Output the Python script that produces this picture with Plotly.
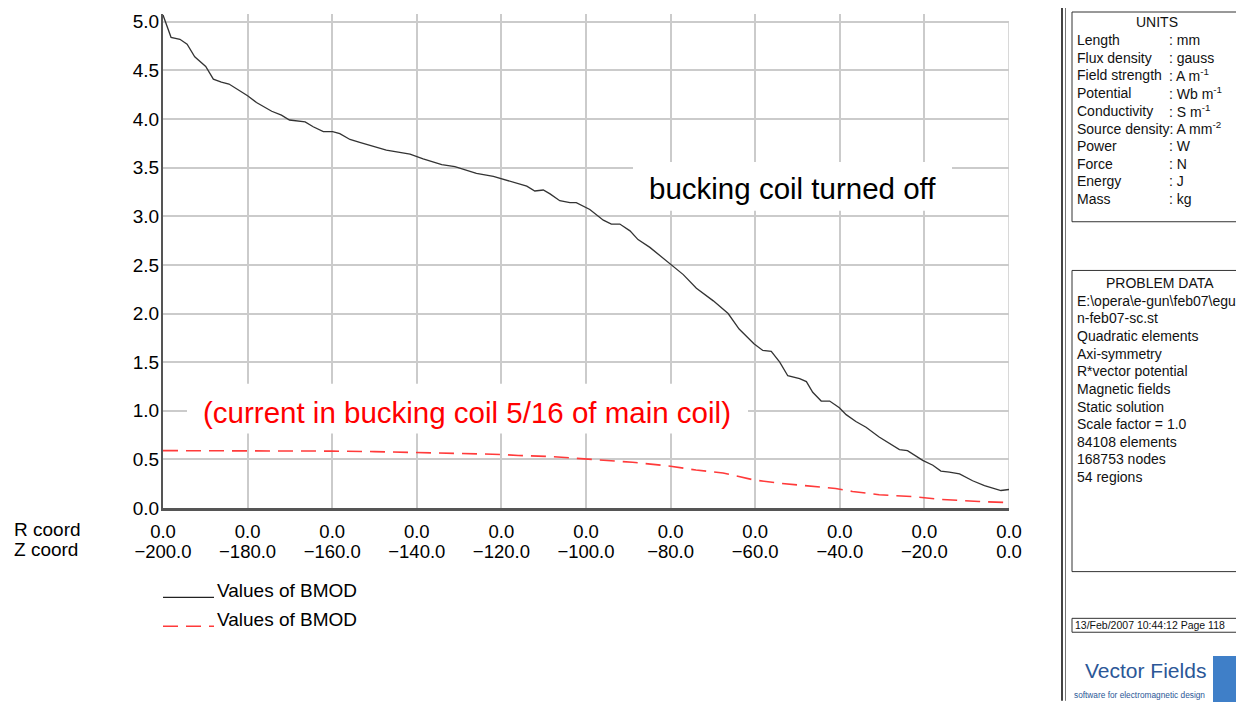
import plotly.graph_objects as go

# ---------------- data ----------------
z_off = [-200, -198.1, -196, -194.3, -192.5, -189.9, -188.1, -186.2, -184.4, -182.2,
         -180, -177.9, -176.3, -174.3, -172, -170.1, -166.4, -164.5, -162.1, -159.9,
         -158.2, -155.8, -153.5, -150.3, -147.2, -144.4, -141.6, -138.5, -134.1, -131,
         -125.9, -121.9, -118, -114, -112.1, -110.1, -108.5, -106.2, -103.8, -102.3,
         -99.1, -95.9, -94, -92, -89.6, -87.7, -84.9, -80.2, -77, -73.9,
         -69.9, -66.4, -63.8, -60.3, -58.2, -56.2, -54.2, -52.3, -49.5, -47.9,
         -46.4, -44.4, -42.4, -40.1, -38.5, -36.2, -33.8, -30.7, -27.5, -25.9,
         -24, -20.4, -18, -16.1, -14.1, -11.7, -8.6, -5.8, -1.9, 0]
b_off = [5.07, 4.84, 4.82, 4.77, 4.64, 4.54, 4.41, 4.38, 4.36, 4.30,
         4.24, 4.17, 4.13, 4.08, 4.04, 3.99, 3.97, 3.92, 3.87, 3.87,
         3.85, 3.79, 3.76, 3.72, 3.68, 3.66, 3.64, 3.59, 3.53, 3.51,
         3.44, 3.41, 3.36, 3.31, 3.26, 3.27, 3.23, 3.16, 3.14, 3.14,
         3.07, 2.96, 2.92, 2.92, 2.85, 2.76, 2.68, 2.51, 2.40, 2.26,
         2.13, 2.00, 1.84, 1.69, 1.62, 1.61, 1.50, 1.36, 1.33, 1.30,
         1.19, 1.10, 1.10, 1.03, 0.96, 0.89, 0.83, 0.73, 0.64, 0.60,
         0.59, 0.49, 0.44, 0.38, 0.37, 0.35, 0.28, 0.23, 0.18, 0.19]

z_buck = [-200, -180, -160, -150, -142.8, -131, -124, -120, -116, -108.5,
          -100, -95, -89, -80, -74, -67.6, -60.5, -54.2, -46.4, -41,
          -37, -30.7, -23, -16.6, -7.1, 0]
b_buck = [0.59, 0.59, 0.585, 0.58, 0.575, 0.56, 0.555, 0.55, 0.54, 0.53,
          0.505, 0.49, 0.47, 0.43, 0.39, 0.36, 0.29, 0.255, 0.22, 0.20,
          0.17, 0.136, 0.118, 0.09, 0.067, 0.055]

z_ticks = [-200, -180, -160, -140, -120, -100, -80, -60, -40, -20, 0]
r_tick_text = ["0.0"] * len(z_ticks)
y_ticks = [0, 0.5, 1.0, 1.5, 2.0, 2.5, 3.0, 3.5, 4.0, 4.5, 5.0]

series_names = ["Values of BMOD", "Values of BMOD"]
label_off = "bucking coil turned off"
label_buck = "(current in bucking coil 5/16 of main coil)"

units_rows = [("Length", ": mm"), ("Flux density", ": gauss"),
              ("Field strength", ": A m<sup>-1</sup>"), ("Potential", ": Wb m<sup>-1</sup>"),
              ("Conductivity", ": S m<sup>-1</sup>"), ("Source density: A mm<sup>-2</sup>", ""),
              ("Power", ": W"), ("Force", ": N"), ("Energy", ": J"), ("Mass", ": kg")]
problem_lines = ["E:\\opera\\e-gun\\feb07\\egu", "n-feb07-sc.st", "Quadratic elements",
                 "Axi-symmetry", "R*vector potential", "Magnetic fields", "Static solution",
                 "Scale factor = 1.0", "84108 elements", "168753 nodes", "54 regions"]
date_text = "13/Feb/2007 10:44:12 Page 118"

# ---------------- layout helpers (page pixel -> paper) ----------------
OFF = 8  # default page margin of the browser
W, H = 1244 - OFF, 702 - OFF
PL, PR, PT, PB = 163 - OFF, 1009 - OFF, 11 - OFF, 508 - OFF
def fx(px):
    return (px - OFF - PL) / (PR - PL)
def fy(py):
    return (PB - (py - OFF)) / (PB - PT)

FONT = "Liberation Sans, Arial, sans-serif"
GRID = "#cbcbcb"
AXIS = "#555555"
BLUE = "#2b5797"

fig = go.Figure()
fig.add_trace(go.Scatter(x=z_off, y=b_off, mode="lines", name=series_names[0],
                         line=dict(color="#333333", width=1.3), showlegend=False))
fig.add_trace(go.Scatter(x=z_buck, y=b_buck, mode="lines", name=series_names[1],
                         line=dict(color="#ff3a3a", width=1.6, dash="15px,8px"),
                         showlegend=False, xaxis="x2"))

shapes = []
annotations = []

# right gridline at z = 0
shapes.append(dict(type="line", xref="x", yref="y", x0=0, x1=0, y0=0, y1=5.0,
                   line=dict(color=GRID, width=1.5), layer="below"))

# white label boxes
shapes.append(dict(type="rect", xref="paper", yref="paper", x0=fx(633), x1=fx(952),
                   y0=fy(209), y1=fy(160), fillcolor="white", line=dict(width=0), layer="above"))
shapes.append(dict(type="rect", xref="paper", yref="paper", x0=fx(187), x1=fx(748),
                   y0=fy(433), y1=fy(383), fillcolor="white", line=dict(width=0), layer="above"))
annotations.append(dict(xref="paper", yref="paper", x=fx(792), y=fy(187), text=label_off,
                        showarrow=False, xanchor="center", yanchor="middle",
                        font=dict(family=FONT, size=29.5, color="black")))
annotations.append(dict(xref="paper", yref="paper", x=fx(467), y=fy(412), text=label_buck,
                        showarrow=False, xanchor="center", yanchor="middle",
                        font=dict(family=FONT, size=29.5, color="#ff0000")))

# R / Z coord labels
annotations.append(dict(xref="paper", yref="paper", x=fx(12), y=fy(530), text="R coord",
                        showarrow=False, xanchor="left", yanchor="middle",
                        font=dict(family=FONT, size=19, color="black")))
annotations.append(dict(xref="paper", yref="paper", x=fx(12), y=fy(550), text="Z coord",
                        showarrow=False, xanchor="left", yanchor="middle",
                        font=dict(family=FONT, size=19, color="black")))

# legend (drawn)
shapes.append(dict(type="line", xref="paper", yref="paper", x0=fx(163), x1=fx(214),
                   y0=fy(598), y1=fy(598), line=dict(color="#222222", width=1.3)))
shapes.append(dict(type="line", xref="paper", yref="paper", x0=fx(163), x1=fx(214),
                   y0=fy(627), y1=fy(627), line=dict(color="#ff3a3a", width=1.6, dash="15px,8px")))
annotations.append(dict(xref="paper", yref="paper", x=fx(215), y=fy(591), text=series_names[0],
                        showarrow=False, xanchor="left", yanchor="middle",
                        font=dict(family=FONT, size=19, color="black")))
annotations.append(dict(xref="paper", yref="paper", x=fx(215), y=fy(620), text=series_names[1],
                        showarrow=False, xanchor="left", yanchor="middle",
                        font=dict(family=FONT, size=19, color="black")))

# right panel separators
shapes.append(dict(type="line", xref="paper", yref="paper", x0=fx(1062), x1=fx(1062),
                   y0=fy(0), y1=fy(702), line=dict(color="#444444", width=2)))
shapes.append(dict(type="line", xref="paper", yref="paper", x0=fx(1065.5), x1=fx(1065.5),
                   y0=fy(0), y1=fy(702), line=dict(color="#777777", width=1)))
# boxes
for (ya, yb) in [(9, 220), (269, 572), (619, 633)]:
    shapes.append(dict(type="rect", xref="paper", yref="paper", x0=fx(1072), x1=fx(1250),
                       y0=fy(yb), y1=fy(ya), line=dict(color="#333333", width=1),
                       fillcolor="rgba(0,0,0,0)"))

PF = 14
annotations.append(dict(xref="paper", yref="paper", x=fx(1157), y=fy(19), text="UNITS",
                        showarrow=False, xanchor="center", yanchor="middle",
                        font=dict(family=FONT, size=PF, color="#111111")))
for i, (lab, val) in enumerate(units_rows):
    yy = 37.3 + i * 17.75
    annotations.append(dict(xref="paper", yref="paper", x=fx(1075), y=fy(yy), text=lab,
                            showarrow=False, xanchor="left", yanchor="middle",
                            font=dict(family=FONT, size=PF, color="#111111")))
    if val:
        annotations.append(dict(xref="paper", yref="paper", x=fx(1167), y=fy(yy), text=val,
                                showarrow=False, xanchor="left", yanchor="middle",
                                font=dict(family=FONT, size=PF, color="#111111")))

annotations.append(dict(xref="paper", yref="paper", x=fx(1160), y=fy(281.7), text="PROBLEM DATA",
                        showarrow=False, xanchor="center", yanchor="middle",
                        font=dict(family=FONT, size=PF, color="#111111")))
for i, line in enumerate(problem_lines):
    yy = 299.4 + i * 17.75
    annotations.append(dict(xref="paper", yref="paper", x=fx(1075), y=fy(yy), text=line,
                            showarrow=False, xanchor="left", yanchor="middle",
                            font=dict(family=FONT, size=PF, color="#111111")))

annotations.append(dict(xref="paper", yref="paper", x=fx(1073), y=fy(626), text=date_text,
                        showarrow=False, xanchor="left", yanchor="middle",
                        font=dict(family=FONT, size=10.5, color="#111111")))

# logo
annotations.append(dict(xref="paper", yref="paper", x=fx(1145), y=fy(671), text="Vector Fields",
                        showarrow=False, xanchor="center", yanchor="middle",
                        font=dict(family=FONT, size=21, color=BLUE)))
annotations.append(dict(xref="paper", yref="paper", x=fx(1139), y=fy(696),
                        text="software for electromagnetic design",
                        showarrow=False, xanchor="center", yanchor="middle",
                        font=dict(family=FONT, size=8.3, color=BLUE)))
shapes.append(dict(type="rect", xref="paper", yref="paper", x0=fx(1213), x1=fx(1250),
                   y0=fy(705), y1=fy(657), line=dict(width=0), fillcolor="#3f7fc8"))

fig.update_layout(
    width=W, height=H,
    margin=dict(l=PL, r=W - PR, t=PT, b=H - PB),
    paper_bgcolor="white", plot_bgcolor="white",
    font=dict(family=FONT, color="black"),
    showlegend=False,
    xaxis=dict(range=[-200, 0], tickmode="array", tickvals=z_ticks, ticktext=r_tick_text,
               showgrid=True, gridcolor=GRID, gridwidth=1.5, zeroline=False,
               showline=True, linecolor=AXIS, linewidth=2.5, ticks="",
               ticklabelstandoff=5, tickfont=dict(family=FONT, size=18.5, color="black")),
    xaxis2=dict(range=[-200, 0], overlaying="x", anchor="y", side="bottom",
                tickmode="array", tickvals=z_ticks, tickformat=".1f",
                showgrid=False, zeroline=False, showline=False, ticks="",
                ticklabelstandoff=30, tickfont=dict(family=FONT, size=18.5, color="black")),
    yaxis=dict(range=[0, 5.08], tickmode="array", tickvals=y_ticks, tickformat=".1f",
               showgrid=True, gridcolor=GRID, gridwidth=1.5, zeroline=False,
               showline=True, linecolor=AXIS, linewidth=2, ticks="",
               ticklabelstandoff=-2,
               tickfont=dict(family=FONT, size=19, color="black")),
    shapes=shapes, annotations=annotations,
)

fig.write_html("out.html")
